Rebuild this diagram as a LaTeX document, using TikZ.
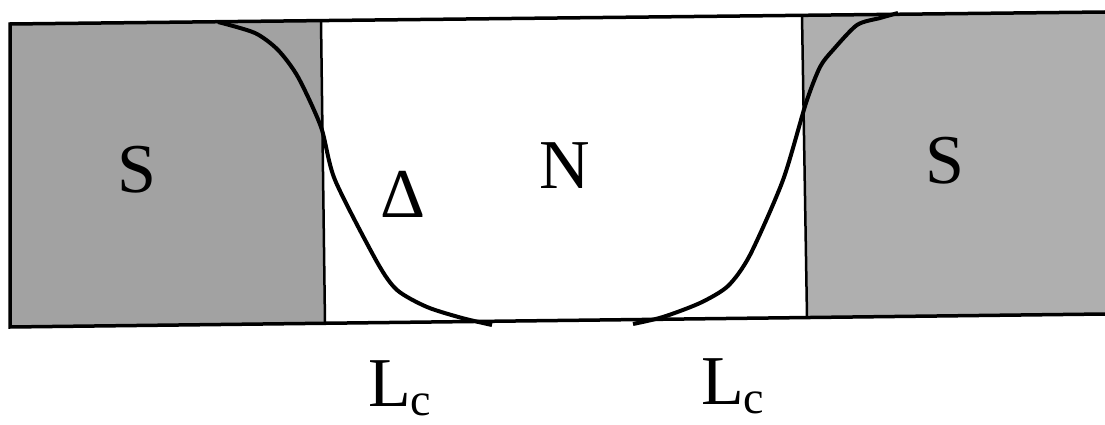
\documentclass[tikz,border=0pt]{standalone}
\usepackage{fontspec}
\setmainfont{Liberation Serif}
\definecolor{sleft}{RGB}{162,162,162}
\definecolor{sright}{RGB}{175,175,175}
\tikzset{
  frame/.style={line width=3.5pt, line join=miter},
  curve/.style={line width=4pt, line join=round},
  lbl/.style={inner sep=0pt, font=\fontsize{70}{70}\selectfont},
}
\begin{document}
\begin{tikzpicture}[x=1pt, y=-1pt]
\useasboundingbox (0,0) rectangle (1105,425);
% gray superconducting blocks
\fill[sleft] (10,24) -- (321,20.6) -- (325,323.3) -- (10,327) -- cycle;
\fill[sright] (802,15.3) -- (1105,12) -- (1105,314) -- (807,317.5) -- cycle;
% frame
\draw[frame] (1105,12) -- (10,24) -- (10,327) -- (1105,314);
\draw[line width=2.5pt] (321,20.6) -- (325,323.3);
\draw[line width=2.5pt] (802,15.3) -- (807,317.5);
% order parameter curves
\draw[curve] plot[smooth, tension=0.45] coordinates {(218,22) (255,33) (278,50) (298,77) (321,127) (335,180) (377,262) (397,290) (427,307) (462,318) (492,325)};
\draw[curve] plot[smooth, tension=0.45] coordinates {(633,324) (663,317) (700,303) (728,286) (750,255) (783,180) (806,103) (820,67) (833,50) (857,25) (880,18) (898,13)};
% labels
\node[lbl] (sl) at (137,170) {S};
\node[lbl] (sr) at (945,161) {S};
\node[lbl] (n) at (565,166) {N};
\node[lbl] (d) at (403,194) {Δ};
\node[lbl, anchor=base west] (lc1) at (368,406) {L\raisebox{-9pt}{\fontsize{46}{46}\selectfont c}};
\node[lbl, anchor=base west] (lc2) at (701,404) {L\raisebox{-9pt}{\fontsize{46}{46}\selectfont c}};
\end{tikzpicture}
\end{document}
